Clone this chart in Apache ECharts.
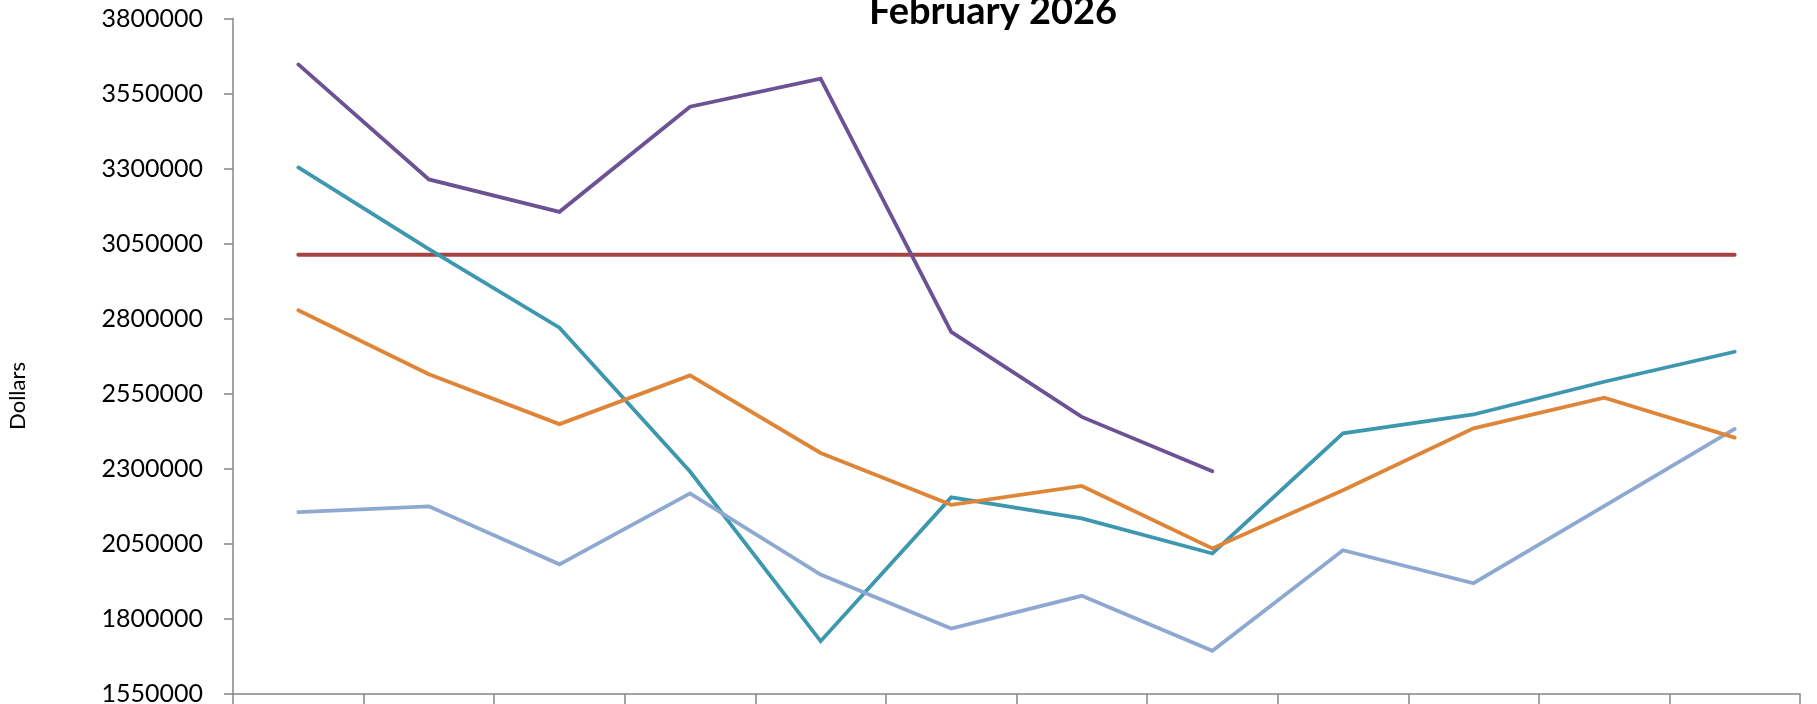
<!DOCTYPE html>
<html>
<head>
<meta charset="utf-8">
<script src="https://cdn.jsdelivr.net/npm/echarts@6/dist/echarts.min.js"></script>
<style>html,body{margin:0;padding:0;background:#fff;}#c{width:1817px;height:704px;}</style>
</head>
<body>
<div id="c"></div>
<script>
const categories = ['Jan','Feb','Mar','Apr','May','Jun','Jul','Aug','Sep','Oct','Nov','Dec'];
const yTicks = { min: 1550000, max: 3800000, step: 250000 };
const targetValues = [3013000,3013000,3013000,3013000,3013000,3013000,3013000,3013000,3013000,3013000,3013000,3013000];
const purpleValues = [3647000,3264000,3156000,3506000,3600000,2756000,2473000,2292000,null,null,null,null];
const tealValues = [3304000,3032000,2770000,2291000,1726000,2205000,2135000,2018000,2418000,2481000,2590000,2690000];
const orangeValues = [2828000,2615000,2449000,2611000,2353000,2180000,2243000,2035000,2229000,2435000,2537000,2404000];
const lightBlueValues = [2156000,2175000,1982000,2218000,1948000,1768000,1877000,1694000,2029000,1919000,2176000,2433000];

const FONT = 'Lato';
const chart = echarts.init(document.getElementById('c'), null, { renderer: 'canvas' });
function line(name, data, color, z) {
  return { name, type: 'line', data, z, symbol: 'none', connectNulls: false,
    lineStyle: { color, width: 3.8, cap: 'round', join: 'miter' }, itemStyle: { color }, animation: false };
}
chart.setOption({
  animation: false,
  backgroundColor: '#ffffff',
  grid: { left: 233, right: 17, top: 18.5, bottom: 10, containLabel: false, outerBoundsMode: 'none' },
  graphic: [
    { type: 'text', x: 993, y: 31, style: { text: 'February 2026', font: 'bold 38px Lato', fill: '#000', align: 'center', verticalAlign: 'bottom' } },
    { type: 'text', x: 18, y: 396, rotation: Math.PI / 2, style: { text: 'Dollars', font: '22px Lato', fill: '#000', align: 'center', verticalAlign: 'middle' } }
  ],
  xAxis: {
    type: 'category', data: categories, boundaryGap: true,
    axisLine: { lineStyle: { color: '#868686', width: 1.5 } },
    axisTick: { show: true, length: 12, lineStyle: { color: '#868686', width: 1.5 } },
    axisLabel: { margin: 8, fontFamily: FONT, fontSize: 25, color: '#000' },
    splitLine: { show: false }
  },
  yAxis: {
    type: 'value', min: yTicks.min, max: yTicks.max, interval: yTicks.step,
    axisLine: { show: true, lineStyle: { color: '#868686', width: 1.5 } },
    axisTick: { show: true, length: 9, lineStyle: { color: '#868686', width: 1.5 } },
    axisLabel: { margin: 30, fontFamily: FONT, fontSize: 25, color: '#000', formatter: v => String(v) },
    splitLine: { show: false }
  },
  series: [
    line('Target', targetValues, '#A84242', 1),
    line('Series A', tealValues, '#3D97AE', 2),
    line('Series B', lightBlueValues, '#8EA9D1', 3),
    line('Series C', orangeValues, '#DF8537', 4),
    line('Series D', purpleValues, '#6B5294', 5)
  ]
});
</script>
</body>
</html>
